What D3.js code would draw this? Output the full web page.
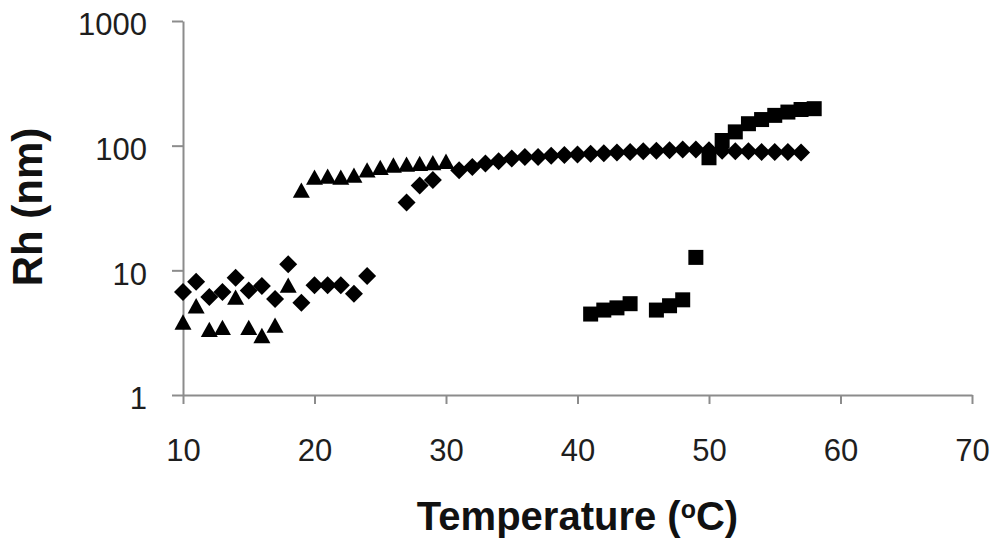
<!DOCTYPE html>
<html>
<head>
<meta charset="utf-8">
<script src="https://cdn.jsdelivr.net/npm/d3@7"></script>
<style>
  body { margin: 0; background: #fff; }
  svg { display: block; font-family: "Liberation Sans", Arial, sans-serif; }
</style>
</head>
<body>
<div id="chart"></div>
<script>
// temperature (C) and Rh (nm)
const diamondT = [10, 11, 12, 13, 14, 15, 16, 17, 18, 19, 20, 21, 22, 23, 24,
                  27, 28, 29, 31, 32, 33, 34, 35, 36, 37, 38, 39, 40, 41, 42, 43, 44, 45, 46,
                  47, 48, 49, 50, 51, 52, 53, 54, 55, 56, 57];
const diamondRh = [6.7, 8.1, 6.1, 6.7, 8.7, 6.9, 7.5, 5.9, 11.2, 5.5, 7.6, 7.6, 7.6, 6.5, 9.0,
                   35, 48, 53, 63.5, 67.5, 72, 75, 79, 81, 81, 83, 84, 85, 86, 87, 88, 89, 90, 91,
                   92, 93, 93, 92, 91, 90, 90, 89, 89, 89, 88];

const triangleT = [10, 11, 12, 13, 14, 15, 16, 17, 18, 19, 20, 21, 22, 23, 24, 25, 26, 27, 28, 29, 30];
const triangleRh = [3.85, 5.2, 3.36, 3.49, 6.1, 3.49, 3.0, 3.64, 7.6, 44, 56, 57, 56, 58, 64, 67, 70, 71, 72, 73, 75];

const squareT = [41, 42, 43, 44, 46, 47, 48, 49, 50, 51, 52, 53, 54, 55, 56, 57, 58];
const squareRh = [4.46, 4.8, 5.0, 5.4, 4.8, 5.2, 5.8, 12.7, 80, 110, 129, 150, 162, 175, 186, 195, 198];

const xTicks = [10, 20, 30, 40, 50, 60, 70];
const yTicks = [1, 10, 100, 1000];

const W = 1000, H = 547;
const margin = {top: 21, right: 28, bottom: 152, left: 183};
const width = W - margin.left - margin.right;
const height = H - margin.top - margin.bottom;

const svg = d3.select("#chart").append("svg")
    .attr("width", W)
    .attr("height", H);

const g = svg.append("g")
    .attr("transform", "translate(" + margin.left + "," + margin.top + ")");

const x = d3.scaleLinear().domain([10, 70]).range([0, width]);
const y = d3.scaleLog().domain([1, 1000]).range([height, 0]);

// axes
const xAxis = g.append("g")
    .attr("transform", "translate(0," + height + ")")
    .call(d3.axisBottom(x).tickValues(xTicks).tickSize(9).tickSizeOuter(0));

const yAxis = g.append("g")
    .call(d3.axisLeft(y).tickValues(yTicks).tickFormat(d3.format("d")).tickSize(11).tickPadding(25).tickSizeOuter(0));

[xAxis, yAxis].forEach(a => {
    a.selectAll("path.domain").attr("stroke", "#8c8c8c").attr("stroke-width", 2);
    a.selectAll(".tick line").attr("stroke", "#8c8c8c").attr("stroke-width", 2);
    a.selectAll(".tick text")
        .attr("fill", "#1e1e1e")
        .style("font-family", "'Liberation Sans', Arial, sans-serif")
        .style("font-size", "31px");
});
// baseline of x tick labels sits about 67px under the axis
xAxis.selectAll(".tick text").attr("dy", null).attr("y", 66);
yAxis.selectAll(".tick text").attr("dy", "0.45em");

// marker shapes
const diamondShape = {
    draw(ctx, size) {
        const r = Math.sqrt(size) / 2;
        ctx.moveTo(0, -r); ctx.lineTo(r, 0); ctx.lineTo(0, r); ctx.lineTo(-r, 0); ctx.closePath();
    }
};
const squareShape = {
    draw(ctx, size) {
        const s = Math.sqrt(size) / 2;
        ctx.rect(-s, -s, 2 * s, 2 * s);
    }
};
const triangleShape = {
    draw(ctx, size) {
        const w = Math.sqrt(size) / 2;
        const h = w * 0.9;
        ctx.moveTo(0, -h); ctx.lineTo(w, h); ctx.lineTo(-w, h); ctx.closePath();
    }
};

function drawSeries(ts, vals, shape, size) {
    const data = ts.map((t, i) => ({t: t, v: vals[i]}));
    g.append("g").selectAll("path")
        .data(data)
        .enter().append("path")
        .attr("d", d3.symbol().type(shape).size(size))
        .attr("transform", d => "translate(" + x(d.t) + "," + y(d.v) + ")")
        .attr("fill", "#000");
}

drawSeries(diamondT, diamondRh, diamondShape, 18 * 18);
drawSeries(triangleT, triangleRh, triangleShape, 17 * 17);
drawSeries(squareT, squareRh, squareShape, 15 * 15);

// axis titles
const xt = svg.append("text")
    .attr("x", margin.left + width / 2)
    .attr("y", 530)
    .attr("text-anchor", "middle")
    .attr("font-weight", "bold")
    .attr("font-size", 40)
    .attr("fill", "#111");
xt.append("tspan").text("Temperature (");
xt.append("tspan").attr("font-size", 25).attr("dy", -12).text("o");
xt.append("tspan").attr("dy", 12).text("C)");

svg.append("text")
    .attr("transform", "translate(42,207) rotate(-90)")
    .attr("text-anchor", "middle")
    .attr("font-weight", "bold")
    .attr("font-size", 42)
    .attr("fill", "#111")
    .text("Rh (nm)");
</script>
</body>
</html>
